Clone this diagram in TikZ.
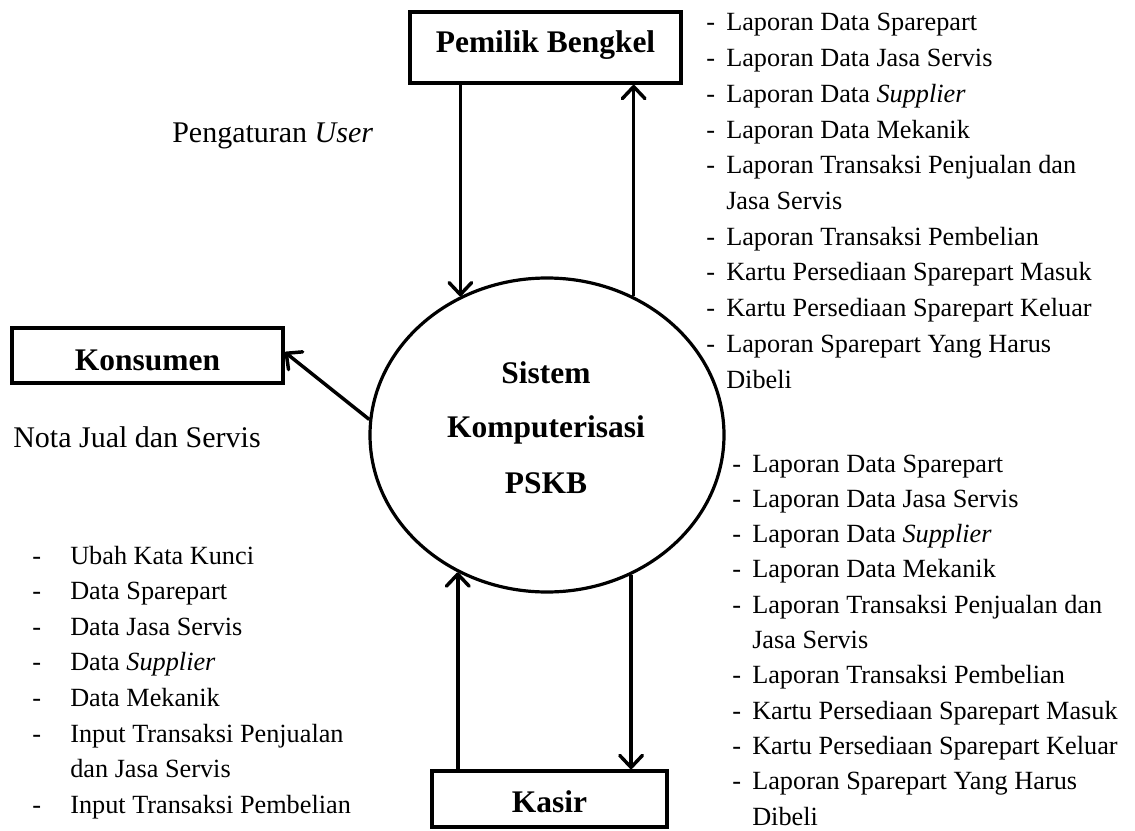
\documentclass[tikz,border=0pt]{standalone}
\usepackage{fontspec}
\setmainfont{Liberation Serif}
\usetikzlibrary{shapes.geometric,arrows.meta}
\begin{document}
\begin{tikzpicture}[x=0.75pt,y=-0.75pt,
  boldlbl/.style={font=\fontsize{23.6}{28}\selectfont\bfseries},
  flow/.style={line width=2.6pt,-{Straight Barb[length=9pt,width=17pt,line width=2.6pt,round]}},
  lbl/.style={anchor=base west,inner sep=0pt,font=\fontsize{22.5}{27}\selectfont},
  li/.style={anchor=base west,inner sep=0pt,font=\fontsize{19.7}{24}\selectfont}]
\useasboundingbox (0,0) rectangle (1135,831);
% entities
\node[draw,line width=2.8pt,inner sep=0pt,minimum width=271*0.75pt,minimum height=71*0.75pt] (pb) at (545.5,47.5) {};
\node[boldlbl,anchor=base,inner sep=0pt] (pbt) at (545.5,53) {Pemilik Bengkel};
\node[draw,line width=2.8pt,inner sep=0pt,minimum width=271*0.75pt,minimum height=55*0.75pt] (ko) at (147.5,355.5) {};
\node[boldlbl,anchor=base,inner sep=0pt] (kot) at (147.5,370) {Konsumen};
\node[draw,line width=2.8pt,inner sep=0pt,minimum width=235*0.75pt,minimum height=56*0.75pt] (ka) at (549.5,799) {};
\node[boldlbl,anchor=base,inner sep=0pt] (kat) at (549.5,812) {Kasir};
% process
\node[ellipse,draw,line width=2.4pt,inner sep=0pt,minimum width=354*0.75pt,minimum height=314*0.75pt] (c) at (547,435) {};
\node[boldlbl,anchor=base,inner sep=0pt] (c1) at (546,383) {Sistem};
\node[boldlbl,anchor=base,inner sep=0pt] (c2) at (546,437) {Komputerisasi};
\node[boldlbl,anchor=base,inner sep=0pt] (c3) at (546,493) {PSKB};
% flows
\draw[flow] (c.122.5 |- pb.south) -- (c.122.5);
\draw[flow] (c.58.3) -- (c.58.3 |- pb.south);
\draw[flow] (c.237.5 |- ka.north) -- (c.237.5);
\draw[flow] (c.301.7) -- (c.301.7 |- ka.north);
\draw[flow] (c.175.8) -- ([yshift=2.5pt]ko.east);
% labels
\node[lbl] (pu) at (172,143) {Pengaturan \textit{User}};
\node[lbl] (nj) at (13,447) {Nota Jual dan Servis};
% top right list
\foreach \d/\t [count=\i] in {1/Laporan Data Sparepart,1/Laporan Data Jasa Servis,1/Laporan Data \textit{Supplier},1/Laporan Data Mekanik,1/Laporan Transaksi Penjualan dan,0/Jasa Servis,1/Laporan Transaksi Pembelian,1/Kartu Persediaan Sparepart Masuk,1/Kartu Persediaan Sparepart Keluar,1/Laporan Sparepart Yang Harus,0/Dibeli}{
  \node[li] (tr\i) at (726,{31+35.7*(\i-1)}) {\t};
  \ifnum\d=1 \node[li] (trd\i) at (706,{31+35.7*(\i-1)}) {-};\fi
}
% bottom right list
\foreach \d/\t [count=\i] in {1/Laporan Data Sparepart,1/Laporan Data Jasa Servis,1/Laporan Data \textit{Supplier},1/Laporan Data Mekanik,1/Laporan Transaksi Penjualan dan,0/Jasa Servis,1/Laporan Transaksi Pembelian,1/Kartu Persediaan Sparepart Masuk,1/Kartu Persediaan Sparepart Keluar,1/Laporan Sparepart Yang Harus,0/Dibeli}{
  \node[li] (br\i) at (752,{472+35.3*(\i-1)}) {\t};
  \ifnum\d=1 \node[li] (brd\i) at (732,{472+35.3*(\i-1)}) {-};\fi
}
% left list
\foreach \d/\t [count=\i] in {1/Ubah Kata Kunci,1/Data Sparepart,1/Data Jasa Servis,1/Data \textit{Supplier},1/Data Mekanik,1/Input Transaksi Penjualan,0/dan Jasa Servis,1/Input Transaksi Pembelian}{
  \node[li] (ll\i) at (70,{564+35.6*(\i-1)}) {\t};
  \ifnum\d=1 \node[li] (lld\i) at (32,{564+35.6*(\i-1)}) {-};\fi
}
\end{tikzpicture}
\end{document}
